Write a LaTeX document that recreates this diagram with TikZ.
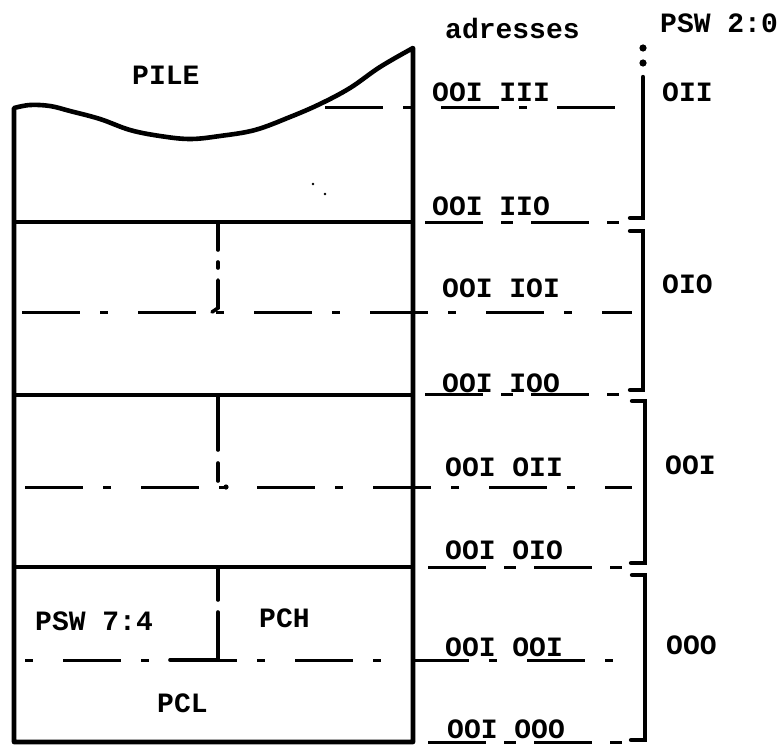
\documentclass[tikz,border=0pt]{standalone}
\usepackage{fontspec}
\setmonofont{Liberation Mono}
\begin{document}
\begin{tikzpicture}[x=1pt,y=-1pt,
  lbl/.style={font=\ttfamily\bfseries\fontsize{28}{30}\selectfont, inner sep=0pt, anchor=west},
  boxline/.style={line width=4.6pt, line cap=round, line join=round},
  divline/.style={line width=3.6pt, line cap=round},
  dashdot/.style={line width=3pt, dash pattern=on 58pt off 20pt on 8pt off 30pt},
  adrdash/.style={line width=3pt, dash pattern=on 58pt off 18pt on 12pt off 18pt},
  brack/.style={line width=4.4pt, line join=miter, line cap=round}]
\useasboundingbox (0,0) rectangle (783,744);

% ---- stack box ----
\draw[boxline] (413,742) -- (14,742) -- (14,108)
  -- plot[smooth, tension=0.6] coordinates {(14,108) (30,105) (50,106) (70,111) (100,119) (130,130) (160,136) (190,139) (220,136) (255,130) (290,117) (320,104) (350,88) (380,67) (413,48)}
  -- (413,742);
\draw[divline] (14,222) -- (413,222);
\draw[divline] (14,395) -- (413,395);
\draw[divline] (14,567) -- (413,567);

% ---- middle dash-dot lines ----
\draw[dashdot] (325,107) -- (632,107);
\draw[dashdot] (22,312) -- (632,312);
\draw[dashdot] (25,487) -- (632,487);
\draw[dashdot, dash phase=78pt] (25,660) -- (632,660);

% ---- dashed continuations of dividers ----
\draw[adrdash] (425,222) -- (622,222);
\draw[adrdash] (425,394) -- (622,394);
\draw[adrdash] (428,567) -- (624,567);
\draw[adrdash] (428,742) -- (624,742);

% ---- vertical dividers ----
\draw[divline] (218,222) -- (218,250);
\draw[divline] (218,262) -- (218,268);
\draw[divline] (218,280) -- (218,308) -- (212,312);
\draw[divline] (218,395) -- (218,450);
\draw[divline] (218,463) -- (218,481);
\fill (226,487) circle (2.6pt);
\draw[divline] (218,567) -- (218,600);
\draw[divline] (218,612) -- (218,660) -- (170,660);

% ---- stray dots ----
\fill (313,184) circle (1.4pt);
\fill (325,194) circle (1.4pt);

% ---- brackets ----
\fill (643,48) circle (3.6pt);
\fill (643,63) circle (3.6pt);
\draw[brack] (643,77) -- (643,218) -- (630,218);
\draw[brack] (630,231) -- (643,231) -- (643,390) -- (630,390);
\draw[brack] (632,401) -- (645,401) -- (645,563) -- (631,563);
\draw[brack] (632,575) -- (645,575) -- (645,740) -- (631,740);

% ---- labels ----
\node[lbl] (pile) at (132,75) {PILE};
\node[lbl] (adr) at (445,28) {adresses};
\node[lbl] (psw20) at (660,23) {PSW 2:0};
\node[lbl] (a7) at (432,92) {OOI III};
\node[lbl] (a6) at (432,206) {OOI IIO};
\node[lbl] (a5) at (442,288) {OOI IOI};
\node[lbl] (a4) at (442,383) {OOI IOO};
\node[lbl] (a3) at (445,467) {OOI OII};
\node[lbl] (a2) at (445,550) {OOI OIO};
\node[lbl] (a1) at (445,647) {OOI OOI};
\node[lbl] (a0) at (447,729) {OOI OOO};
\node[lbl] (g3) at (662,92) {OII};
\node[lbl] (g2) at (662,284) {OIO};
\node[lbl] (g1) at (665,465) {OOI};
\node[lbl] (g0) at (666,645) {OOO};
\node[lbl] (psw74) at (35,621) {PSW 7:4};
\node[lbl] (pch) at (259,618) {PCH};
\node[lbl] (pcl) at (157,703) {PCL};
\end{tikzpicture}
\end{document}
